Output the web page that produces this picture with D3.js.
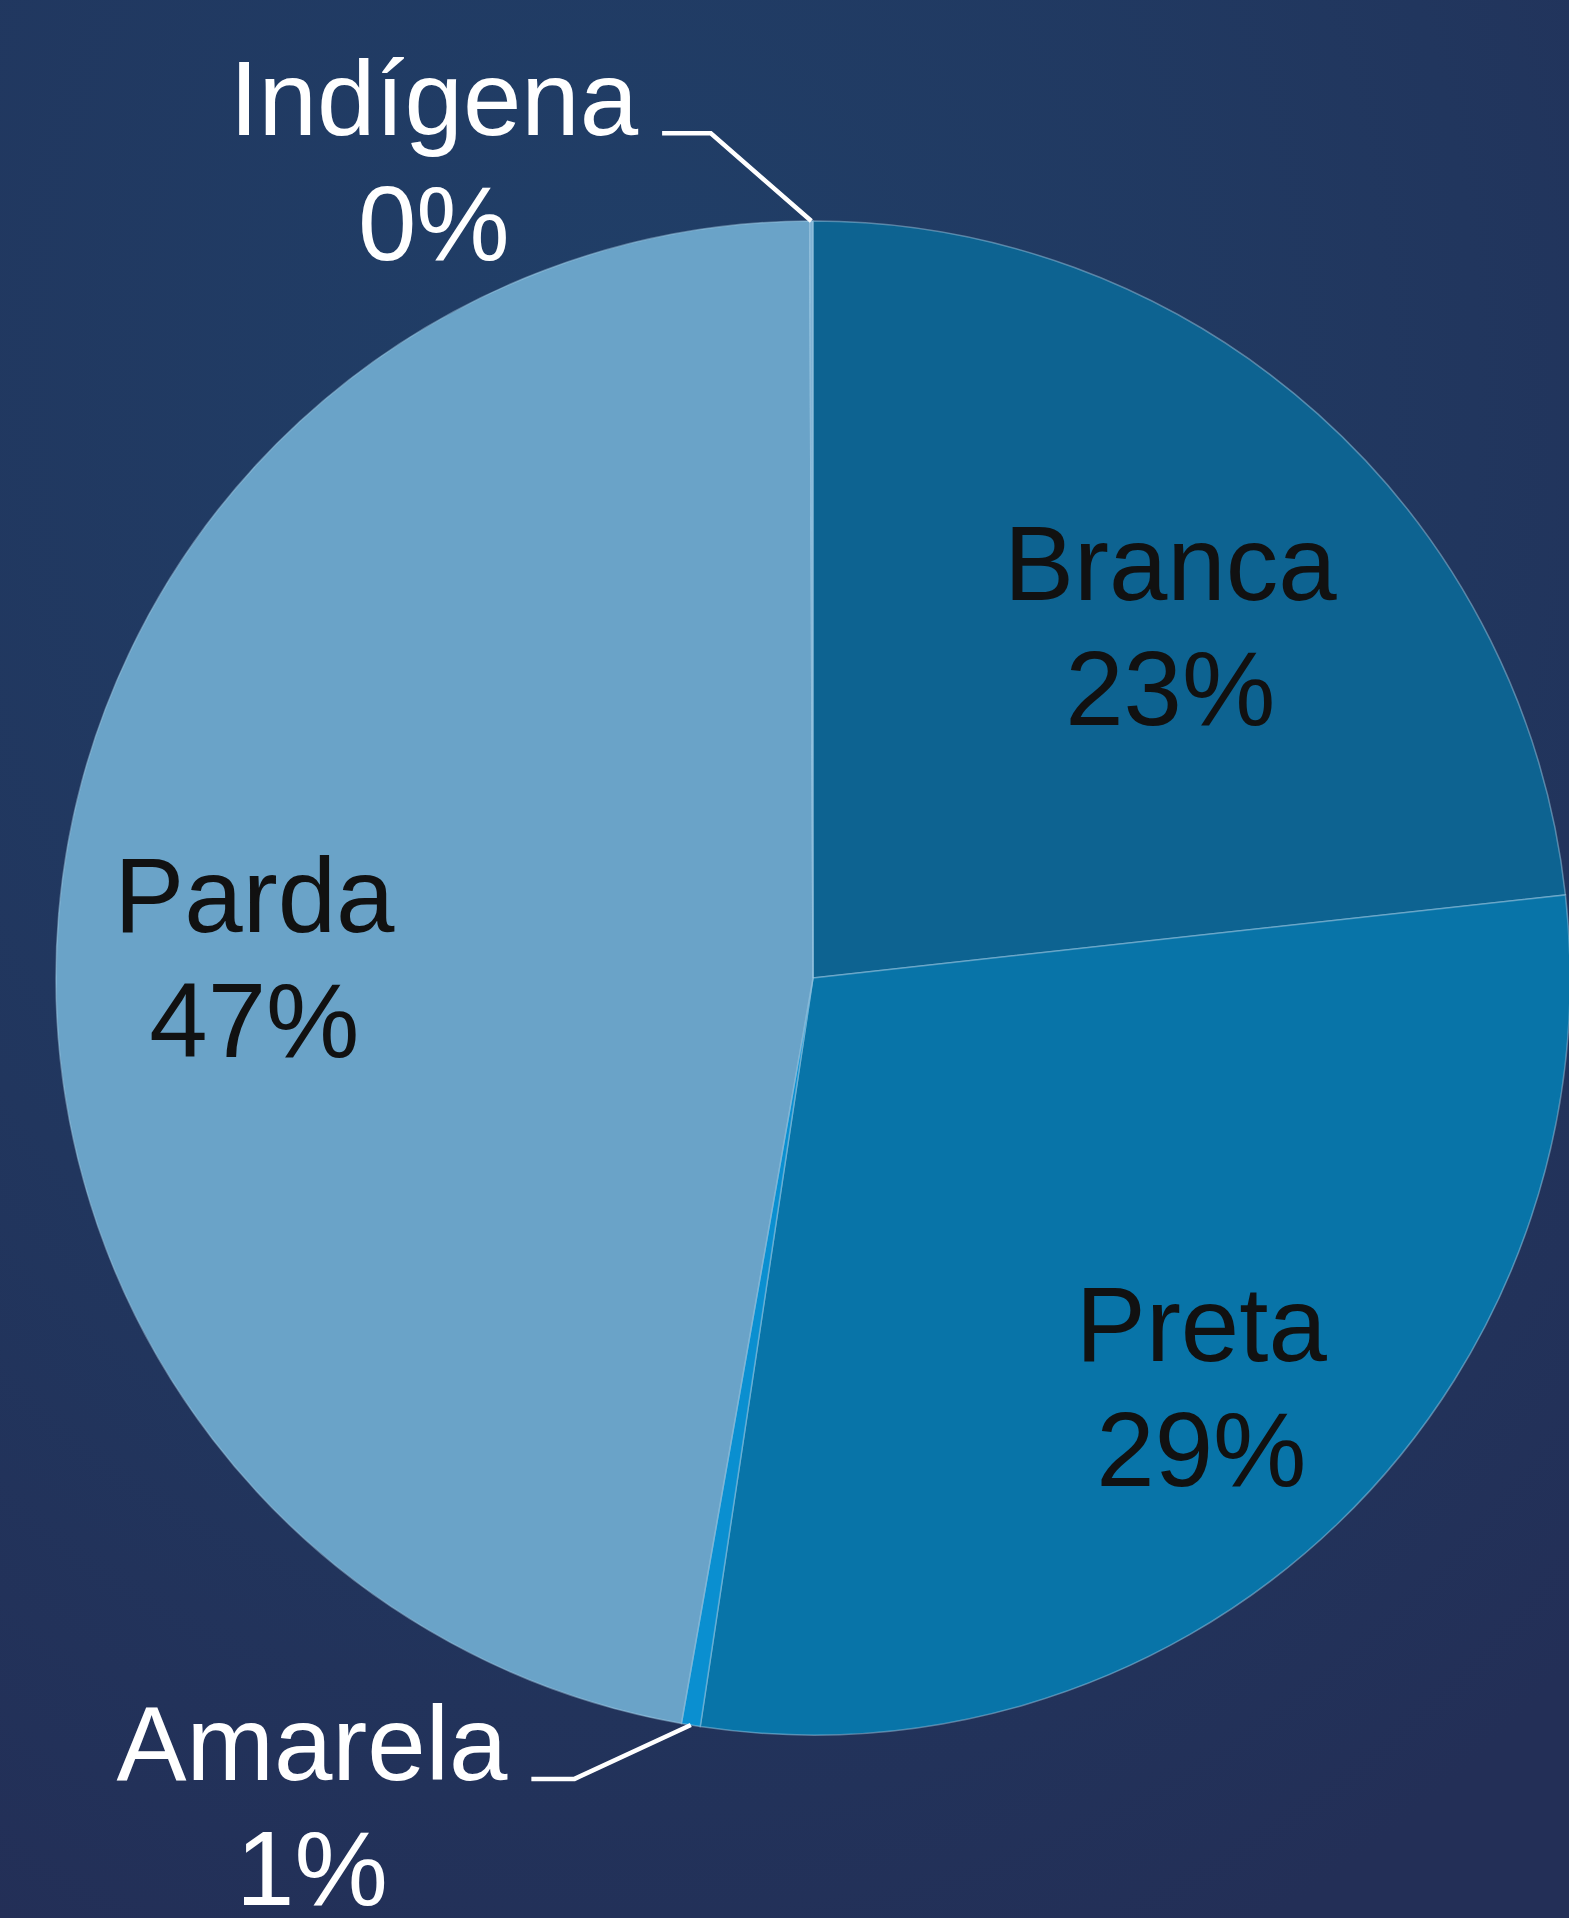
<!DOCTYPE html>
<html>
<head>
<meta charset="utf-8">
<script src="https://cdn.jsdelivr.net/npm/d3@7"></script>
<style>
  html, body { margin: 0; padding: 0; background: #22375f; }
  svg { display: block; }
  text { font-family: 'Liberation Sans', Arial, sans-serif; }
</style>
</head>
<body>
<div id="chart"></div>
<script>
// values, clockwise from 12 o'clock
var categories = ['Branca', 'Preta', 'Amarela', 'Parda', 'Indígena']
var shares = [23.25, 29.13, 0.4, 47.15, 0.07]
var shareLabels = ['23%', '29%', '1%', '47%', '0%']

var colors = {
  'Branca': '#0d6391',
  'Preta': '#0874a8',
  'Amarela': '#0a8fd0',
  'Parda': '#6aa3c8',
  'Indígena': '#7fb2d4'
}

var width = 1569
var height = 1918
var center = { x: 813, y: 978 }
var radius = 757
var fontSize = 105
var lineGap = 125

// label placement, as fractions of the radius from the centre
var insideLabels = {
  'Branca': { dx: 0.472, dy: -0.500 },
  'Preta': { dx: 0.513, dy: 0.506 },
  'Parda': { dx: -0.738, dy: -0.061 }
}
// outside labels: text spot and leader elbow, same units
var outsideLabels = {
  'Indígena': { dx: -0.501, dy: -1.113, ex: -0.135, ey: -1.116 },
  'Amarela': { dx: -0.662, dy: 1.060, ex: -0.315, ey: 1.058 }
}

var data = categories.map(function (c, i) {
  return { name: c, value: shares[i], label: shareLabels[i] }
})

var svg = d3.select('#chart').append('svg')
  .attr('width', width)
  .attr('height', height)

var defs = svg.append('defs')
var grad = defs.append('radialGradient')
  .attr('id', 'bg')
  .attr('cx', '40%').attr('cy', '20%')
  .attr('r', '90%')
grad.append('stop').attr('offset', '0%').attr('stop-color', '#203f68')
grad.append('stop').attr('offset', '60%').attr('stop-color', '#21365e')
grad.append('stop').attr('offset', '100%').attr('stop-color', '#232f57')

svg.append('rect')
  .attr('width', width)
  .attr('height', height)
  .attr('fill', 'url(#bg)')

var g = svg.append('g')
  .attr('transform', 'translate(' + center.x + ',' + center.y + ')')

var pie = d3.pie()
  .sort(null)
  .value(function (d) { return d.value })

var arc = d3.arc()
  .innerRadius(0)
  .outerRadius(radius)

var rimArc = d3.arc()
  .innerRadius(radius)
  .outerRadius(radius)

var arcs = pie(data)

g.selectAll('path.slice')
    .data(arcs)
  .enter().append('path')
    .attr('class', 'slice')
    .attr('d', arc)
    .attr('fill', function (d) { return colors[d.data.name] })
    .attr('stroke', '#a9d3ea')
    .attr('stroke-opacity', 0.45)
    .attr('stroke-width', 1.5)

// inside labels
arcs.forEach(function (d) {
  var spot = insideLabels[d.data.name]
  if (!spot) return
  var x = spot.dx * radius
  var y = spot.dy * radius
  var t = g.append('text')
    .attr('text-anchor', 'middle')
    .attr('font-size', fontSize)
    .attr('fill', '#111111')
  t.append('tspan').attr('x', x).attr('y', y).text(d.data.name)
  t.append('tspan').attr('x', x).attr('y', y + lineGap).text(d.data.label)
})

// outside labels with leader lines
arcs.forEach(function (d) {
  var spot = outsideLabels[d.data.name]
  if (!spot) return
  var end = rimArc.centroid(d)
  var x = spot.dx * radius
  var y = spot.dy * radius
  var elbowX = spot.ex * radius
  var elbowY = spot.ey * radius

  var t = g.append('text')
    .attr('font-size', fontSize)
    .attr('fill', '#ffffff')
  var nameSpan = t.append('tspan')
    .attr('text-anchor', 'middle')
    .attr('x', x).attr('y', y)
    .text(d.data.name)
  t.append('tspan')
    .attr('text-anchor', 'middle')
    .attr('x', x).attr('y', y + lineGap)
    .text(d.data.label)

  var textRight = x + nameSpan.node().getComputedTextLength() / 2

  g.append('path')
    .attr('d', d3.line()([[textRight + 24, elbowY], [elbowX, elbowY], end]))
    .attr('fill', 'none')
    .attr('stroke', '#ffffff')
    .attr('stroke-width', 4.5)
    .attr('stroke-linejoin', 'miter')
})
</script>
</body>
</html>
